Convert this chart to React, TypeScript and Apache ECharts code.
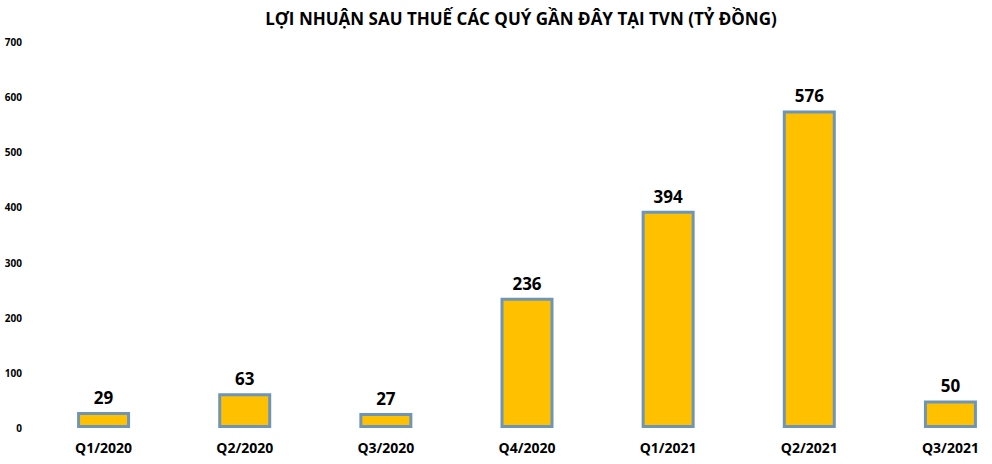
import React, { useEffect, useRef } from "react";
import * as echarts from "echarts";

const categories = ["Q1/2020", "Q2/2020", "Q3/2020", "Q4/2020", "Q1/2021", "Q2/2021", "Q3/2021"];
const profits = [29, 63, 27, 236, 394, 576, 50];
const titleText = "LỢI NHUẬN SAU THUẾ CÁC QUÝ GẦN ĐÂY TẠI TVN (TỶ ĐỒNG)";

const FONT = "'Open Sans', 'Noto Sans', sans-serif";

export default function App() {
  const ref = useRef<HTMLDivElement>(null);
  useEffect(() => {
    if (!ref.current) return;
    const chart = echarts.init(ref.current, null, { renderer: "svg" });
    chart.setOption({
      animation: false,
      backgroundColor: "#ffffff",
      title: {
        text: titleText,
        left: 516,
        textAlign: "center",
        top: 5,
        textStyle: { fontFamily: FONT, fontSize: 17, fontWeight: "bold", color: "#000000" },
      },
      grid: { left: 33, right: 0, top: 42, bottom: 36 },
      xAxis: {
        type: "category",
        data: categories,
        axisLine: { show: false },
        axisTick: { show: false },
        axisLabel: {
          margin: 12,
          fontFamily: FONT,
          fontSize: 14,
          fontWeight: "bold",
          color: "#000000",
        },
      },
      yAxis: {
        type: "value",
        min: 0,
        max: 700,
        interval: 100,
        splitLine: { show: false },
        axisLine: { show: false },
        axisTick: { show: false },
        axisLabel: {
          margin: 11,
          fontFamily: FONT,
          fontSize: 10,
          fontWeight: "bold",
          color: "#000000",
        },
      },
      series: [
        {
          type: "bar",
          data: profits,
          barWidth: 53,
          itemStyle: { color: "#FFC000", borderColor: "#6E95B8", borderWidth: 3 },
          label: {
            show: true,
            position: "top",
            distance: 6,
            fontFamily: FONT,
            fontSize: 17,
            fontWeight: "bold",
            color: "#000000",
          },
        },
      ],
    });
    return () => chart.dispose();
  }, []);
  return (
    <div style={{ width: 992, height: 464, position: "absolute", left: 0, top: 0, overflow: "hidden", background: "#ffffff" }}>
      <div ref={ref} style={{ width: 1021, height: 464 }} />
    </div>
  );
}
